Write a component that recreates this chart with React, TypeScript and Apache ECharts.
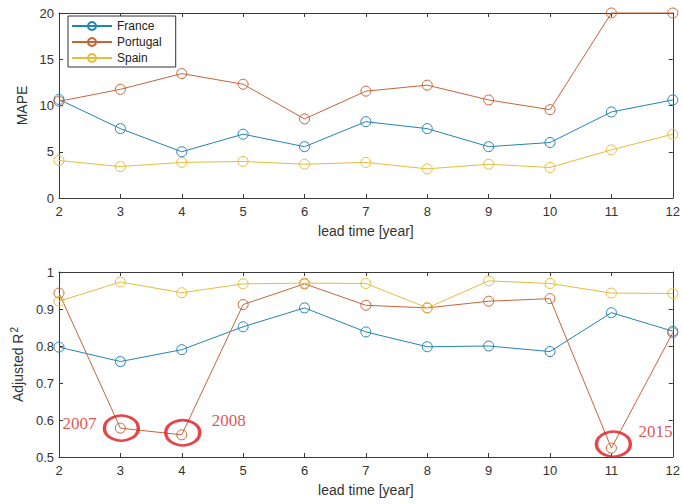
import React, { useEffect, useRef } from "react";
import * as echarts from "echarts";

const leadTimes = [2, 3, 4, 5, 6, 7, 8, 9, 10, 11, 12];

const mapeFrance = [10.65, 7.5, 5.0, 6.9, 5.55, 8.25, 7.5, 5.55, 6.0, 9.3, 10.6];
const mapePortugal = [10.45, 11.75, 13.45, 12.3, 8.55, 11.55, 12.2, 10.6, 9.55, 20.0, 20.0];
const mapeSpain = [4.05, 3.4, 3.85, 3.95, 3.65, 3.85, 3.15, 3.65, 3.3, 5.2, 6.9];

const r2France = [0.797, 0.758, 0.79, 0.852, 0.903, 0.838, 0.798, 0.8, 0.785, 0.89, 0.84];
const r2Portugal = [0.943, 0.578, 0.56, 0.912, 0.968, 0.91, 0.903, 0.921, 0.928, 0.524, 0.836];
const r2Spain = [0.921, 0.973, 0.944, 0.968, 0.97, 0.969, 0.903, 0.976, 0.969, 0.943, 0.942];

const countries = ["France", "Portugal", "Spain"];
const colors = ["#2284b4", "#c8643a", "#e6bd3c"];

const annotationYears = ["2007", "2008", "2015"];
const annotationX = [3, 4, 11];

const pair = (ys: number[]) => leadTimes.map((x, i) => [x, ys[i]]);

export default function App() {
  const ref = useRef<HTMLDivElement>(null);
  useEffect(() => {
    if (!ref.current) return;
    const chart = echarts.init(ref.current, undefined, { renderer: "svg" });
    const axisColor = "#3a3a3a";
    const font = "Liberation Sans";
    const baseX = (gridIndex: number, bottom: boolean) => ({
      type: "value" as const,
      gridIndex,
      min: 2,
      max: 12,
      interval: 1,
      position: bottom ? "bottom" : "top",
      axisLine: { show: true, onZero: false, lineStyle: { color: axisColor, width: 1 } },
      axisTick: { show: true, inside: true, length: 4, lineStyle: { color: axisColor } },
      axisLabel: {
        show: bottom,
        color: "#333",
        fontFamily: font,
        fontSize: 13,
        margin: 7,
      },
      splitLine: { show: false },
      name: bottom ? "lead time [year]" : "",
      nameLocation: "middle" as const,
      nameGap: 26,
      nameTextStyle: { color: "#333", fontFamily: font, fontSize: 14 },
    });
    const baseY = (gridIndex: number, left: boolean, min: number, max: number, interval: number, name: string, gap: number) => ({
      type: "value" as const,
      gridIndex,
      min,
      max,
      interval,
      position: left ? "left" : "right",
      axisLine: { show: true, onZero: false, lineStyle: { color: axisColor, width: 1 } },
      axisTick: { show: true, inside: true, length: 4, lineStyle: { color: axisColor } },
      axisLabel: {
        show: left,
        color: "#333",
        fontFamily: font,
        fontSize: 13,
        margin: 5,
      },
      splitLine: { show: false },
      name: left ? name : "",
      nameLocation: "middle" as const,
      nameGap: gap,
      nameTextStyle: {
        color: "#333",
        fontFamily: font,
        fontSize: 14,
        rich: { sup: { fontSize: 10, verticalAlign: "top", color: "#333", fontFamily: font, padding: [0, 0, 8, 1] } },
      },
    });

    const lineSeries = (name: string, ys: number[], idx: number, color: string) => ({
      name,
      type: "line" as const,
      xAxisIndex: idx,
      yAxisIndex: idx,
      data: pair(ys),
      symbol: "circle",
      symbolSize: 10,
      clip: false,
      color,
      lineStyle: { color, width: 1 },
      itemStyle: { color: "rgba(255,255,255,0)", borderColor: color, borderWidth: 1 },
      emphasis: { disabled: true },
    });

    const annPoints = annotationX.map((x) => [x, r2Portugal[leadTimes.indexOf(x)]]);
    const annOffsets = [
      { sym: [1, 0], lab: [-42, -5] },
      { sym: [1, -2], lab: [46, -12] },
      { sym: [2, -4], lab: [42, -13] },
    ];

    chart.setOption({
      animation: false,
      backgroundColor: "#fff",
      grid: [
        { left: 59, top: 13, right: 10, height: 185 },
        { left: 59, top: 272, right: 10, height: 185 },
      ],
      xAxis: [baseX(0, true), baseX(0, false), baseX(1, true), baseX(1, false)],
      yAxis: [
        baseY(0, true, 0, 20, 5, "MAPE", 24),
        baseY(0, false, 0, 20, 5, "", 24),
        baseY(1, true, 0.5, 1, 0.1, "Adjusted R{sup|2}", 27),
        baseY(1, false, 0.5, 1, 0.1, "", 27),
      ],
      legend: {
        data: countries,
        orient: "vertical",
        left: 68,
        top: 16,
        itemWidth: 40,
        itemHeight: 10,
        itemGap: 4,
        padding: [4, 14, 3, 3],
        borderColor: "#333",
        borderWidth: 1,
        borderRadius: 0,
        backgroundColor: "#fff",
        textStyle: { color: "#222", fontFamily: font, fontSize: 12 },
      },
      series: [
        lineSeries(countries[0], mapeFrance, 0, colors[0]),
        lineSeries(countries[1], mapePortugal, 0, colors[1]),
        lineSeries(countries[2], mapeSpain, 0, colors[2]),
        lineSeries(countries[0], r2France, 2, colors[0]),
        lineSeries(countries[1], r2Portugal, 2, colors[1]),
        lineSeries(countries[2], r2Spain, 2, colors[2]),
        {
          name: "annotations",
          type: "scatter",
          xAxisIndex: 2,
          yAxisIndex: 2,
          clip: false,
          silent: true,
          z: 5,
          data: annPoints.map((p, i) => ({
            value: p,
            symbolOffset: annOffsets[i].sym,
            label: {
              show: true,
              formatter: annotationYears[i],
              position: "inside",
              offset: annOffsets[i].lab,
              color: "#d42a2a",
              fontFamily: "Liberation Serif",
              fontSize: 17,
            },
          })),
          symbol: "circle",
          symbolSize: [34, 25],
          itemStyle: { color: "rgba(0,0,0,0)", borderColor: "#e0161c", borderWidth: 3 },
        },
      ],
    });
    return () => chart.dispose();
  }, []);
  return <div ref={ref} style={{ width: 683, height: 504, position: "absolute", left: 0, top: 0 }} />;
}
